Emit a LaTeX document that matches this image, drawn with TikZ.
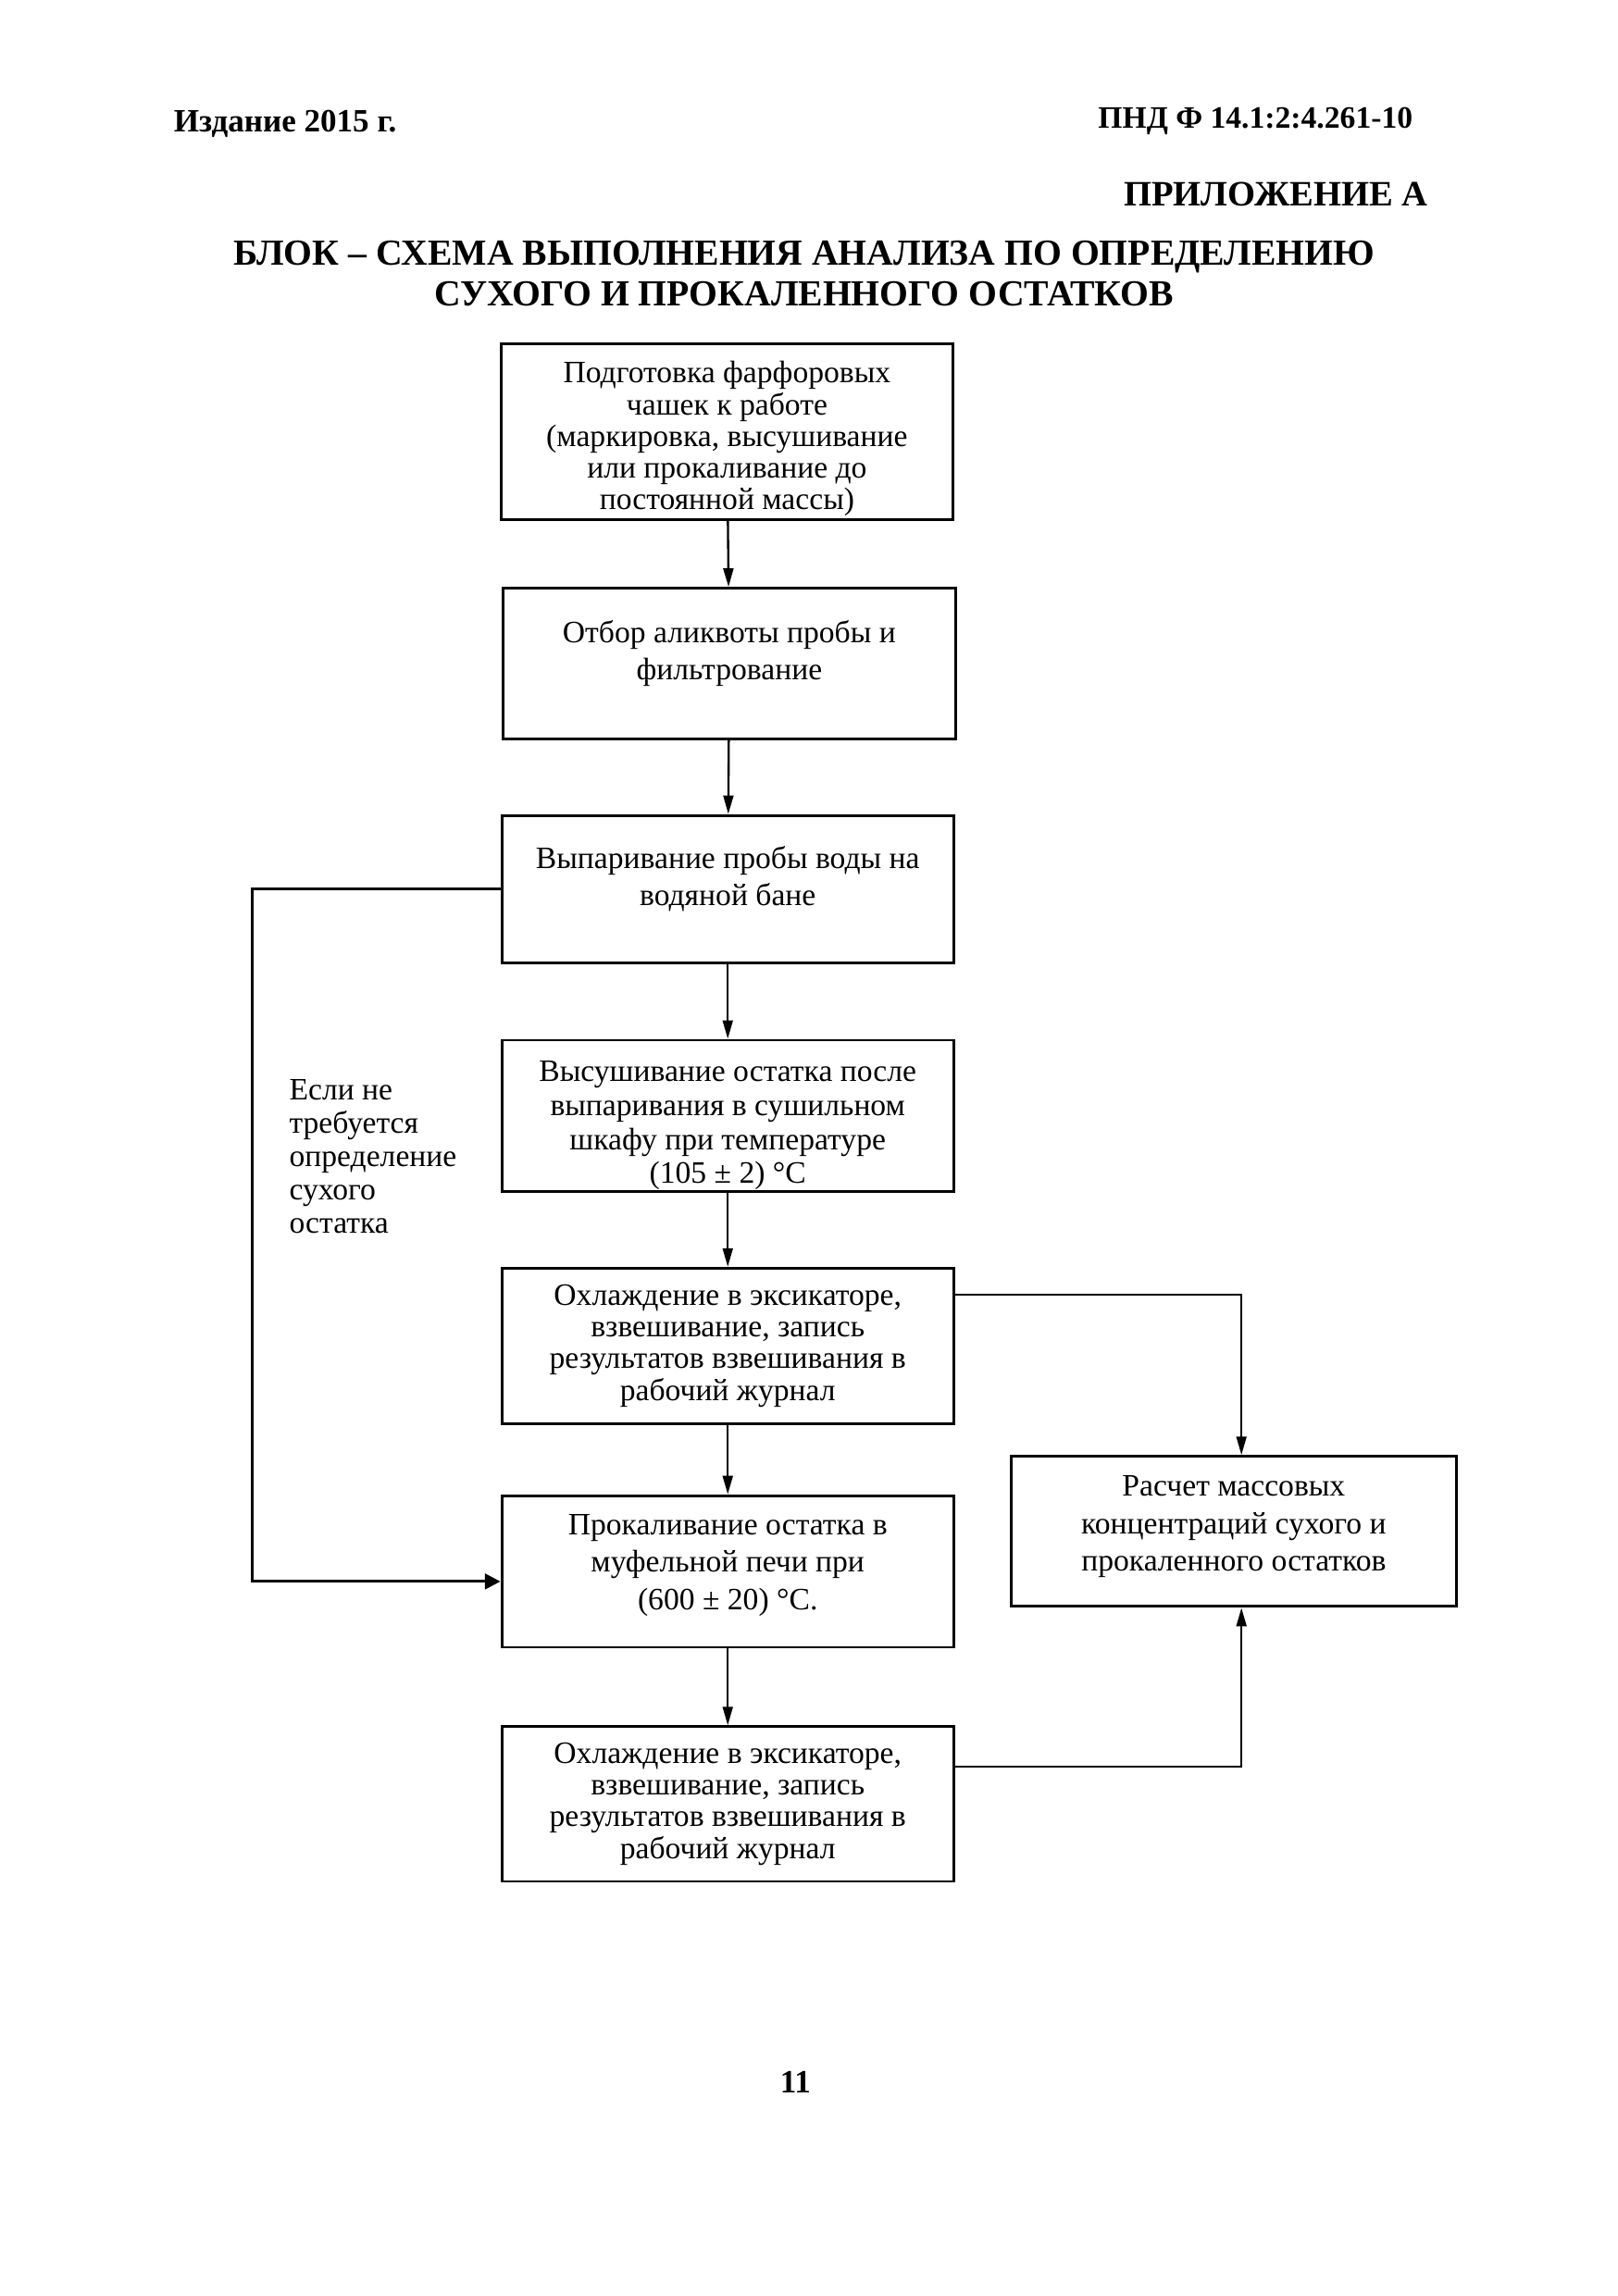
\documentclass[tikz,border=0pt]{standalone}
\usepackage{fontspec}
\setmainfont{Liberation Serif}
\usetikzlibrary{arrows.meta}

\begin{document}
\begin{tikzpicture}[
        stage/.style={draw, line width=1pt, minimum width=5.87cm, align=center, inner sep=2pt, font=\fontsize{11.5}{11.7}\selectfont},
        roomy/.style={font=\fontsize{11.5}{13.8}\selectfont, text depth=10pt},
        result/.style={draw, line width=1pt, minimum width=5.78cm, minimum height=1.95cm, align=center, inner sep=2pt, font=\fontsize{11.5}{13.8}\selectfont, text depth=6pt},
        note/.style={align=left, inner sep=0pt, font=\fontsize{11.5}{12.3}\selectfont},
        head/.style={inner sep=0pt, font=\bfseries\fontsize{12}{14}\selectfont},
        conn/.style={line width=0.8pt, -{Triangle[length=2.4mm,width=1.3mm]}}
    ]

    \useasboundingbox (0,0) rectangle (21,29.82);

    % Header
    \node[head, anchor=west] (edition) at (2.25,28.21) {Издание 2015 г.};
    \node[head, anchor=east, font=\bfseries\fontsize{11.5}{14}\selectfont] (code) at (18.35,28.25) {ПНД Ф 14.1:2:4.261-10};
    \node[head, anchor=east, font=\bfseries\fontsize{13.2}{15}\selectfont] (annex) at (18.55,27.30) {ПРИЛОЖЕНИЕ А};
    \node[head, align=center, font=\bfseries\fontsize{13.57}{15.2}\selectfont] (title) at (10.44,26.27) {БЛОК – СХЕМА ВЫПОЛНЕНИЯ АНАЛИЗА ПО ОПРЕДЕЛЕНИЮ\\СУХОГО И ПРОКАЛЕННОГО ОСТАТКОВ};

    % Main column
    \node[stage, minimum height=2.28cm, text height=57.5pt, text depth=0pt] (prep) at (9.44,24.21) {Подготовка фарфоровых\\чашек к работе\\(маркировка, высушивание\\или прокаливание до\\постоянной массы)};
    \node[stage, roomy, minimum height=1.96cm] (sample) at (9.47,21.20) {Отбор аликвоты пробы и\\фильтрование};
    \node[stage, roomy, minimum height=1.92cm] (evap) at (9.45,18.27) {Выпаривание пробы воды на\\водяной бане};
    \node[stage, minimum height=1.96cm, text height=50pt, text depth=0pt, font=\fontsize{11.5}{12.5}\selectfont] (dry) at (9.45,15.33) {Высушивание остатка после\\выпаривания в сушильном\\шкафу при температуре\\(105 ± 2) °C};
    \node[stage, minimum height=2.02cm] (cool1) at (9.45,12.34) {Охлаждение в эксикаторе,\\взвешивание, запись\\результатов взвешивания в\\рабочий журнал};
    \node[stage, roomy, text depth=7pt, minimum height=1.97cm] (ignite) at (9.45,9.41) {Прокаливание остатка в\\муфельной печи при\\(600 ± 20) °C.};
    \node[stage, minimum height=2.01cm] (cool2) at (9.45,6.39) {Охлаждение в эксикаторе,\\взвешивание, запись\\результатов взвешивания в\\рабочий журнал};

    % Calculation
    \node[result] (calc) at (16.02,9.93) {Расчет массовых\\концентраций сухого и\\прокаленного остатков};

    % Bypass note
    \node[note, anchor=west] (skipnote) at (3.75,14.80) {Если не\\требуется\\определение\\сухого\\остатка};
    \coordinate (skip) at (3.27,18.27);

    % Page number
    \node[head] (page) at (10.33,2.78) {11};

    % Arrows
    \draw[conn] (prep) -- (sample);
    \draw[conn] (sample) -- (evap);
    \draw[conn] (evap) -- (dry);
    \draw[conn] (dry) -- (cool1);
    \draw[conn] (cool1) -- (ignite);
    \draw[conn] (ignite) -- (cool2);
    \draw[conn, line width=1pt, -{Triangle[length=2mm,width=2mm]}] (evap.west) -- (skip) |- ([yshift=-0.13cm]ignite.west);
    \draw[conn] ([yshift=-0.36cm]cool1.north east) -| ([xshift=1mm]calc.north);
    \draw[conn] ([yshift=-0.54cm]cool2.north east) -| ([xshift=1mm]calc.south);

\end{tikzpicture}
\end{document}
